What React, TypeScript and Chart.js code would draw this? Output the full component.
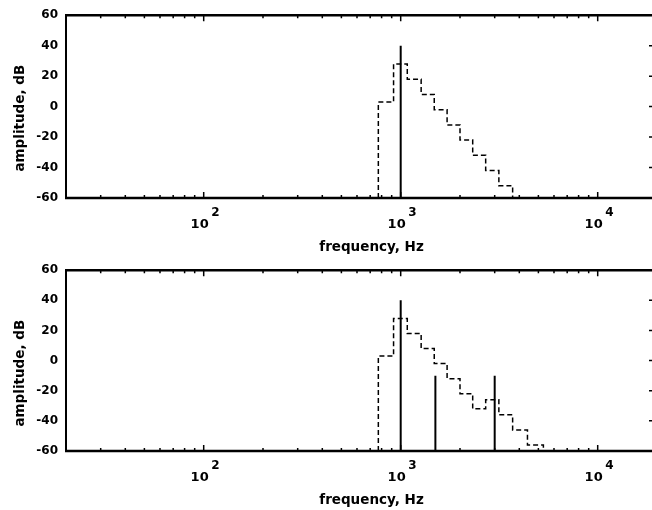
import React, { useEffect, useRef } from 'react';
import { Chart, registerables } from 'chart.js';

Chart.register(...registerables);

// ---- data ----
const X_MIN = 20;
const X_MAX = 20000;
const Y_MIN = -60;
const Y_MAX = 60;
const Y_STEP = 20;
const decadeExponents = [2, 3, 4];
const xTitle = 'frequency, Hz';
const yTitle = 'amplitude, dB';

// top panel: single 1 kHz tone and its masking curve (critical bands)
const bandEdgesTop = [770, 920, 1080, 1270, 1480, 1720, 2000, 2320, 2700, 3150, 3700];
const maskLevelsTop = [3, 28, 18, 8, -2, -12, -22, -32, -42, -52];
const toneFreqsTop = [1000];
const toneLevelsTop = [40];

// bottom panel: three tones and combined masking curve
const bandEdgesBottom = [770, 920, 1080, 1270, 1480, 1720, 2000, 2320, 2700, 3150, 3700, 4400, 5300];
const maskLevelsBottom = [3, 28, 18, 8, -2, -12, -22, -32, -26, -36, -46, -56];
const toneFreqsBottom = [1000, 1500, 3000];
const toneLevelsBottom = [40, -10, -10];

const FONT = 'DejaVu Sans';

function stepPoints(edges: number[], levels: number[]) {
  const pts: { x: number; y: number }[] = [{ x: edges[0], y: Y_MIN }];
  levels.forEach((l, i) => pts.push({ x: edges[i], y: l }));
  pts.push({ x: edges[edges.length - 1], y: Y_MIN });
  return pts;
}

function tonePoints(freqs: number[], levels: number[]) {
  const pts: { x: number; y: number | null }[] = [];
  freqs.forEach((f, i) => {
    pts.push({ x: f, y: Y_MIN }, { x: f, y: levels[i] }, { x: f, y: null });
  });
  return pts;
}

const framePlugin = {
  id: 'frame',
  afterDraw(chart: any) {
    const { ctx, chartArea, scales } = chart;
    const { left, right, top, bottom } = chartArea;
    const xs = scales.x;
    const ys = scales.y;
    ctx.save();
    ctx.strokeStyle = '#000';
    ctx.fillStyle = '#000';
    // inward x ticks on top and bottom
    ctx.lineWidth = 1.5;
    ctx.beginPath();
    for (let e = 1; e <= 4; e++) {
      for (let m = 1; m <= 9; m++) {
        const v = m * Math.pow(10, e);
        if (v <= X_MIN || v >= X_MAX) continue;
        const px = xs.getPixelForValue(v);
        const len = m === 1 ? 6 : 3;
        ctx.moveTo(px, bottom);
        ctx.lineTo(px, bottom - len);
        ctx.moveTo(px, top);
        ctx.lineTo(px, top + len);
      }
    }
    // inward y ticks on right side
    for (const t of ys.ticks) {
      if (t.value === Y_MIN || t.value === Y_MAX) continue;
      const py = ys.getPixelForValue(t.value);
      ctx.moveTo(right, py);
      ctx.lineTo(right - 8, py);
    }
    ctx.stroke();
    // frame
    ctx.lineWidth = 2.6;
    ctx.beginPath();
    ctx.moveTo(left - 1, top);
    ctx.lineTo(right + 1, top);
    ctx.moveTo(left - 1, bottom);
    ctx.lineTo(right + 1, bottom);
    ctx.stroke();
    ctx.lineWidth = 2;
    ctx.beginPath();
    ctx.moveTo(left, top);
    ctx.lineTo(left, bottom);
    ctx.moveTo(right, top);
    ctx.lineTo(right, bottom);
    ctx.stroke();

    // decade labels with superscripts
    for (const e of decadeExponents) {
      const px = xs.getPixelForValue(Math.pow(10, e));
      ctx.font = `bold 13px "${FONT}"`;
      ctx.textAlign = 'right';
      ctx.textBaseline = 'alphabetic';
      ctx.fillText('10', px + 5, bottom + 29.5);
      ctx.font = `bold 12px "${FONT}"`;
      ctx.textAlign = 'left';
      ctx.fillText(String(e), px + 7.5, bottom + 18);
    }

    // axis titles
    ctx.font = `bold 13.5px "${FONT}"`;
    ctx.textAlign = 'center';
    ctx.textBaseline = 'alphabetic';
    ctx.fillText(xTitle, (left + right) / 2 + 10, bottom + 53);
    ctx.save();
    ctx.translate(20.5, top + 103);
    ctx.rotate(-Math.PI / 2);
    ctx.textBaseline = 'middle';
    ctx.fillText(yTitle, 0, 0);
    ctx.restore();

    ctx.restore();
  },
};

function Panel({
  edges,
  levels,
  freqs,
  tones,
  padTop,
  padBottom,
}: {
  edges: number[];
  levels: number[];
  freqs: number[];
  tones: number[];
  padTop: number;
  padBottom: number;
}) {
  const ref = useRef<HTMLCanvasElement | null>(null);
  useEffect(() => {
    if (!ref.current) return;
    const chart = new Chart(ref.current, {
      type: 'line',
      data: {
        datasets: [
          {
            label: 'tones',
            data: tonePoints(freqs, tones) as any,
            borderColor: '#000',
            borderWidth: 2,
            pointRadius: 0,
            spanGaps: false,
            fill: false,
          },
          {
            label: 'mask',
            data: stepPoints(edges, levels) as any,
            borderColor: '#000',
            borderWidth: 1.5,
            borderDash: [5, 3],
            pointRadius: 0,
            stepped: true,
            fill: false,
          },
        ],
      },
      options: {
        responsive: false,
        animation: false,
        devicePixelRatio: 1,
        layout: { padding: { left: 0, right: 700 - 657, top: padTop, bottom: padBottom } },
        plugins: { legend: { display: false }, tooltip: { enabled: false } },
        scales: {
          x: {
            type: 'logarithmic',
            min: X_MIN,
            max: X_MAX,
            ticks: { display: false },
            grid: { display: false, drawTicks: false },
            border: { display: false },
            afterFit: (s: any) => {
              s.height = 0;
            },
          },
          y: {
            type: 'linear',
            min: Y_MIN,
            max: Y_MAX,
            ticks: {
              stepSize: Y_STEP,
              color: '#000',
              padding: 8,
              font: { family: FONT, weight: 'bold', size: 12 },
            },
            grid: { display: false, drawTicks: false },
            border: { display: false },
            afterFit: (s: any) => {
              s.width = 66;
            },
          },
        },
      },
      plugins: [framePlugin],
    } as any);
    return () => chart.destroy();
  }, []);
  return <canvas ref={ref} width={700} height={255} style={{ display: 'block', width: 700, height: 255 }} />;
}

export default function App() {
  return (
    <div
      style={{
        position: 'fixed',
        left: 0,
        top: 0,
        width: 652,
        height: 510,
        overflow: 'hidden',
        background: '#fff',
      }}
    >
      <div style={{ position: 'absolute', left: 0, top: 0 }}>
        <Panel
          edges={bandEdgesTop}
          levels={maskLevelsTop}
          freqs={toneFreqsTop}
          tones={toneLevelsTop}
          padTop={15}
          padBottom={255 - 198}
        />
      </div>
      <div style={{ position: 'absolute', left: 0, top: 255 }}>
        <Panel
          edges={bandEdgesBottom}
          levels={maskLevelsBottom}
          freqs={toneFreqsBottom}
          tones={toneLevelsBottom}
          padTop={12}
          padBottom={255 - 196}
        />
      </div>
    </div>
  );
}
